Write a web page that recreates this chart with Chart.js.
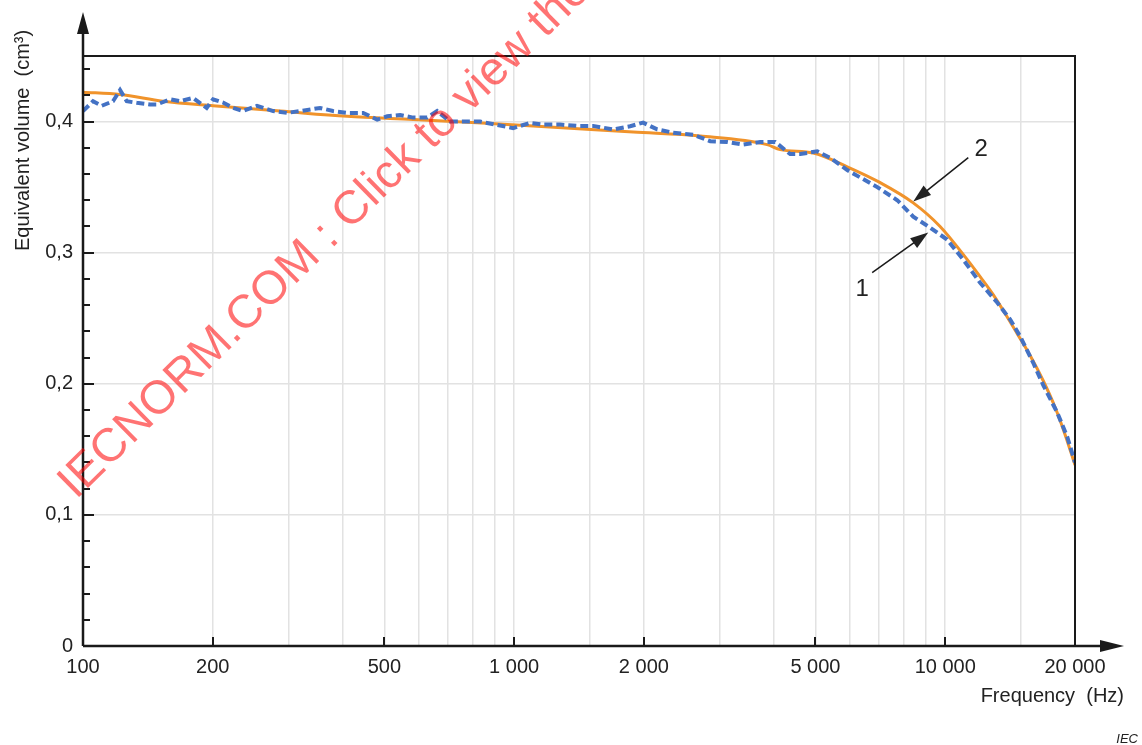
<!DOCTYPE html>
<html><head><meta charset="utf-8">
<script src="https://cdn.jsdelivr.net/npm/chart.js@4.4.1/dist/chart.umd.min.js"></script>
<style>html,body{margin:0;padding:0;background:#fff;overflow:hidden}</style>
</head><body>
<canvas id="c" width="1142" height="745"></canvas>
<script>
// ---- data ----
const measuredFreq = [100,105.5,110.5,117.4,121.9,126.3,133.2,143,148.3,159.2,167.9,180,193.6,200.3,211.3,222.8,235,253.3,276,297.4,318.8,354.6,380.2,409.9,446.5,481.2,507.6,544,583.2,628.4,662.9,710.6,749.6,834,994.7,1089,1168,1279,1400,1525,1697,1858,1992,2147,2339,2602,2850,3121,3399,3723,4033,4369,4609,5047,5411,5925,6955,7740,8430,9230,10100,11010,12050,13200,14150,14930,16000,16880,18190,19190,20000];
const measuredVol  = [0.408,0.4155,0.412,0.4155,0.424,0.4155,0.4143,0.413,0.413,0.417,0.4155,0.418,0.4104,0.417,0.4145,0.4104,0.408,0.412,0.408,0.4066,0.408,0.4104,0.408,0.4066,0.4066,0.4015,0.404,0.405,0.403,0.403,0.408,0.400,0.400,0.400,0.395,0.399,0.3977,0.3977,0.3967,0.3967,0.3939,0.3964,0.3992,0.394,0.3915,0.390,0.385,0.3844,0.3824,0.3844,0.3844,0.3752,0.3752,0.3773,0.3723,0.363,0.350,0.340,0.3275,0.319,0.310,0.2947,0.277,0.262,0.249,0.236,0.216,0.199,0.178,0.1595,0.140];
const fittedFreq = [100,121.9,153.3,200.3,286.5,409.9,583.2,820.7,1107,1889,2702,3864,4141,4940,5925,7068,8430,9730,11250,12050,12920,13780,14700,15750,16880,18000,18980,20000];
const fittedVol  = [0.4224,0.4206,0.4155,0.412,0.408,0.404,0.4015,0.399,0.3967,0.392,0.389,0.3824,0.3786,0.376,0.3655,0.3534,0.338,0.320,0.2947,0.2817,0.268,0.2534,0.238,0.2214,0.2023,0.1817,0.161,0.138];
const xTickLabels = [100,200,500,1000,2000,5000,10000,20000];
const yTickLabels = [0,0.1,0.2,0.3,0.4];
const yMinorStep = 0.02;
const yTitle = 'Equivalent volume  (cm³)';
const xTitle = 'Frequency  (Hz)';
const curveLabels = [
  {text:'1', tip:[9134,0.3153], tail:[6769,0.2847], at:[6418,0.2718]},
  {text:'2', tip:[8430,0.3390], tail:[11310,0.3725], at:[12120,0.3786]}
];
const watermark = 'IECNORM.COM : Click to view the full PDF of IEC';

const FONT = "'Liberation Sans', Arial, sans-serif";
const near = (a,b) => Math.abs(a-b) < 1e-6*Math.max(1,Math.abs(b));
const fmtFreq = v => String(v).replace(/\B(?=(\d{3})+(?!\d))/g,' ');

const decor = {
  id:'decor',
  afterDraw(chart){
    const ctx = chart.ctx, a = chart.chartArea, xs = chart.scales.x, ys = chart.scales.y;
    ctx.save();
    ctx.strokeStyle = '#1a1a1a'; ctx.fillStyle = '#1a1a1a';
    ctx.lineWidth = 2;
    ctx.beginPath(); ctx.moveTo(a.left, a.top); ctx.lineTo(a.right, a.top); ctx.lineTo(a.right, a.bottom); ctx.stroke();
    ctx.lineWidth = 2.5;
    ctx.beginPath(); ctx.moveTo(a.left, a.bottom); ctx.lineTo(a.left, 30); ctx.stroke();
    ctx.beginPath(); ctx.moveTo(a.left, a.bottom); ctx.lineTo(1102, a.bottom); ctx.stroke();
    ctx.beginPath(); ctx.moveTo(a.left, 12); ctx.lineTo(a.left-6, 34); ctx.lineTo(a.left+6, 34); ctx.closePath(); ctx.fill();
    ctx.beginPath(); ctx.moveTo(1124, a.bottom); ctx.lineTo(1100, a.bottom-6); ctx.lineTo(1100, a.bottom+6); ctx.closePath(); ctx.fill();
    ctx.lineWidth = 2;
    for (let i = 1; i * yMinorStep <= ys.max + 1e-9; i++) {
      const v = i * yMinorStep;
      const major = yTickLabels.some(t => near(v, t));
      const y = Math.round(ys.getPixelForValue(v));
      ctx.beginPath(); ctx.moveTo(a.left, y); ctx.lineTo(a.left + (major ? 11 : 7), y); ctx.stroke();
    }
    xTickLabels.forEach(v => {
      if (v === xs.min || v === xs.max) return;
      const x = Math.round(xs.getPixelForValue(v));
      ctx.beginPath(); ctx.moveTo(x, a.bottom); ctx.lineTo(x, a.bottom - 9); ctx.stroke();
    });
    ctx.fillStyle = '#222';
    ctx.font = '20px ' + FONT;
    ctx.save(); ctx.translate(23, 251); ctx.rotate(-Math.PI/2);
    ctx.textAlign = 'left'; ctx.textBaseline = 'middle'; ctx.fillText(yTitle, 0, 0); ctx.restore();
    ctx.font = '20px ' + FONT; ctx.textAlign = 'right'; ctx.textBaseline = 'middle';
    ctx.fillText(xTitle, 1124, 696);
    ctx.font = 'italic 13px ' + FONT; ctx.fillText('IEC', 1138, 739);
    ctx.lineWidth = 1.5;
    curveLabels.forEach(c => {
      const tx = xs.getPixelForValue(c.tip[0]), ty = ys.getPixelForValue(c.tip[1]);
      const sx = xs.getPixelForValue(c.tail[0]), sy = ys.getPixelForValue(c.tail[1]);
      const ang = Math.atan2(ty - sy, tx - sx), L = 18, W = 6;
      ctx.beginPath(); ctx.moveTo(sx, sy); ctx.lineTo(tx - Math.cos(ang)*L*0.8, ty - Math.sin(ang)*L*0.8); ctx.stroke();
      ctx.beginPath(); ctx.moveTo(tx, ty);
      ctx.lineTo(tx - Math.cos(ang)*L - Math.sin(ang)*W, ty - Math.sin(ang)*L + Math.cos(ang)*W);
      ctx.lineTo(tx - Math.cos(ang)*L + Math.sin(ang)*W, ty - Math.sin(ang)*L - Math.cos(ang)*W);
      ctx.closePath(); ctx.fill();
      ctx.font = '24px ' + FONT; ctx.textAlign = 'center'; ctx.textBaseline = 'middle';
      ctx.fillText(c.text, xs.getPixelForValue(c.at[0]), ys.getPixelForValue(c.at[1]));
    });
    ctx.save();
    ctx.translate(76, 500); ctx.rotate(-44.5 * Math.PI / 180);
    ctx.font = '47px ' + FONT; ctx.fillStyle = 'rgba(255,0,0,0.55)';
    ctx.textAlign = 'left'; ctx.textBaseline = 'alphabetic';
    ctx.fillText(watermark, 0, 0);
    ctx.restore();
    ctx.restore();
  }
};

new Chart(document.getElementById('c'), {
  type: 'line',
  data: {
    datasets: [
      { label: '1', data: measuredFreq.map((f,i) => ({x:f, y:measuredVol[i]})),
        borderColor: '#4472C4', borderWidth: 4, borderDash: [8,4], pointRadius: 0, tension: 0, fill: false },
      { label: '2', data: fittedFreq.map((f,i) => ({x:f, y:fittedVol[i]})),
        borderColor: '#F0932B', borderWidth: 3, pointRadius: 0, cubicInterpolationMode: 'monotone', fill: false }
    ]
  },
  options: {
    responsive: false, animation: false, devicePixelRatio: 1,
    layout: { padding: { left: 0, top: 56, right: 67, bottom: 0 } },
    plugins: { legend: { display: false }, tooltip: { enabled: false } },
    scales: {
      x: {
        type: 'logarithmic', min: 100, max: 20000,
        afterFit: s => { s.height = 99; },
        border: { display: false },
        grid: { drawTicks: false, lineWidth: 1.5, color: c => (c.tick && (c.tick.value === 100 || c.tick.value === 20000)) ? 'rgba(0,0,0,0)' : '#e2e2e2' },
        ticks: { autoSkip: false, maxRotation: 0, padding: 9, color: '#222', font: { family: FONT, size: 20 },
          callback: v => xTickLabels.some(t => near(v, t)) ? fmtFreq(Math.round(v)) : '' }
      },
      y: {
        type: 'linear', min: 0, max: 0.45,
        afterFit: s => { s.width = 83; },
        border: { display: false },
        grid: { drawTicks: false, lineWidth: 1.5, color: c => (c.tick && c.tick.value > 0.01 && yTickLabels.some(t => near(c.tick.value, t))) ? '#e2e2e2' : 'rgba(0,0,0,0)' },
        ticks: { stepSize: 0.1, autoSkip: false, padding: 10, color: '#222', font: { family: FONT, size: 20 },
          callback: v => { const t = yTickLabels.find(t => near(v, t)); return t === undefined ? '' : (t === 0 ? '0' : t.toFixed(1).replace('.', ',')); } }
      }
    }
  },
  plugins: [decor]
});
</script>
</body></html>
